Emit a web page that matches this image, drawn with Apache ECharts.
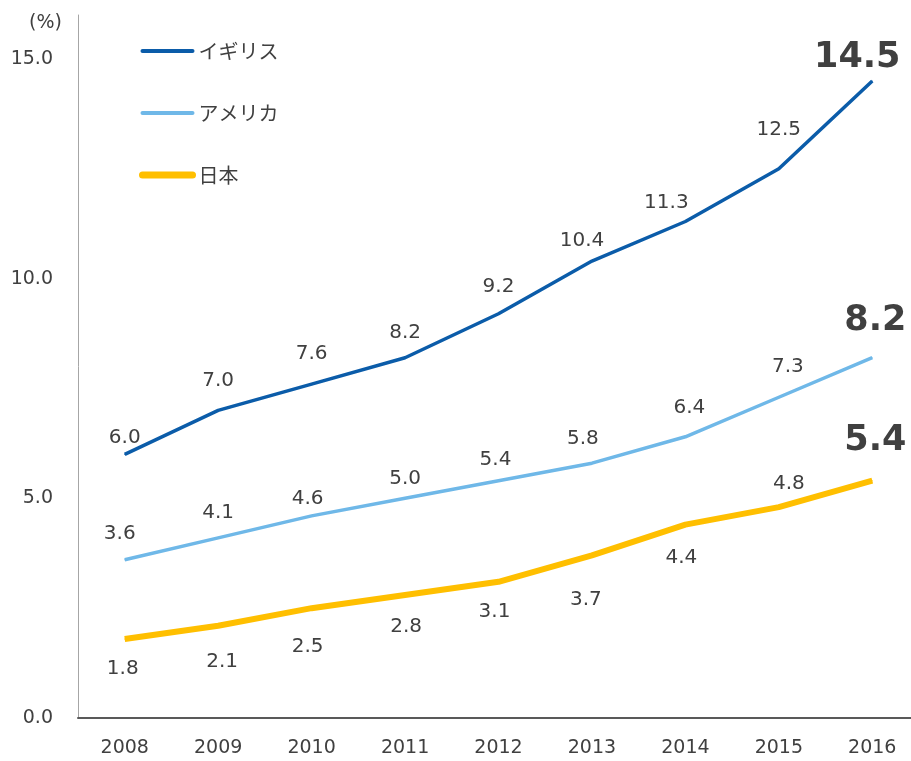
<!DOCTYPE html>
<html>
<head>
<meta charset="utf-8">
<script src="https://cdn.jsdelivr.net/npm/echarts@6/dist/echarts.min.js"></script>
<style>
  html, body { margin: 0; padding: 0; background: #fff; }
  #main { width: 911px; height: 761px; }
</style>
</head>
<body>
<div id="main"></div>
<script>
// データ
var years = ['2008', '2009', '2010', '2011', '2012', '2013', '2014', '2015', '2016'];
var uk = [6.0, 7.0, 7.6, 8.2, 9.2, 10.4, 11.3, 12.5, 14.5];
var usa = [3.6, 4.1, 4.6, 5.0, 5.4, 5.8, 6.4, 7.3, 8.2];
var japan = [1.8, 2.1, 2.5, 2.8, 3.1, 3.7, 4.4, 4.8, 5.4];
var seriesNames = ['イギリス', 'アメリカ', '日本'];

// ラベル位置 (点からのずれ)
var ukOffsets = [[0, -17], [0, -30], [0, -30], [0, -25], [0, -27], [-10, -20], [-19, -19], [0, -39], [-15, -23]];
var usaOffsets = [[-5, -26], [0, -25], [-4, -17], [0, -20], [-3, -21], [-9, -24], [4, -29], [9, -30], [3, -37]];
var jpOffsets = [[-2, 30], [4, 36], [-4, 39], [1, 32], [-4, 30], [-6, 44], [-4, 33], [10, -23], [3, -40]];

var numFont = 'DejaVu Sans';
var jpFont = '"Noto Sans CJK JP", "DejaVu Sans"';
var textColor = '#404040';
var colors = ['#0b5ca9', '#6fb8e8', '#ffbf00'];
var widths = [3.5, 3.5, 6];

function makeData(values, offsets) {
    var out = [];
    for (var i = 0; i < values.length; i++) {
        var last = i === values.length - 1;
        out.push({
            value: values[i],
            label: {
                offset: offsets[i],
                fontSize: last ? 35 : 20,
                fontWeight: last ? 'bold' : 'normal'
            }
        });
    }
    return out;
}

function lineSeries(k, values, offsets) {
    return {
        type: 'line',
        name: seriesNames[k],
        data: makeData(values, offsets),
        symbol: 'circle',
        symbolSize: 1,
        itemStyle: { color: colors[k] },
        lineStyle: { color: colors[k], width: widths[k] },
        label: {
            show: true,
            position: 'inside',
            color: textColor,
            fontFamily: numFont,
            formatter: function (p) { return p.value.toFixed(1); }
        },
        emphasis: { disabled: true },
        animation: false
    };
}

window.onload = function () {
    var chart = echarts.init(document.getElementById('main'));

    var legendData = seriesNames.map(function (n, k) {
        return { name: n, lineStyle: { width: k === 2 ? 7 : 4, cap: 'round' } };
    });

    var option = {
        title: {
            text: '(%)',
            left: 24,
            top: 9,
            textStyle: { fontSize: 19, fontWeight: 'normal', color: textColor, fontFamily: numFont }
        },
        legend: {
            data: legendData,
            orient: 'vertical',
            left: 134,
            top: 36,
            itemWidth: 50,
            itemHeight: 14,
            itemGap: 42,
            textStyle: { fontSize: 20, color: textColor, fontFamily: jpFont, padding: [0, 0, 0, 1] },
            itemStyle: { opacity: 0 }
        },
        grid: {
            left: 78,
            width: 841,
            top: 15,
            bottom: 43,
            outerBoundsMode: 'none'
        },
        xAxis: {
            type: 'category',
            data: years,
            boundaryGap: true,
            axisLine: { lineStyle: { color: '#595959', width: 2 } },
            axisTick: { show: false },
            axisLabel: { color: textColor, fontSize: 19, fontFamily: numFont, margin: 21 },
            splitLine: { show: false }
        },
        yAxis: {
            type: 'value',
            min: 0,
            max: 16,
            interval: 5,
            axisLine: { show: true, lineStyle: { color: '#a6a6a6', width: 1 } },
            axisTick: { show: false },
            splitLine: { show: false },
            axisLabel: {
                color: textColor,
                fontSize: 19,
                fontFamily: numFont,
                margin: 25,
                formatter: function (v) { return v % 5 === 0 ? v.toFixed(1) : ''; }
            }
        },
        series: [
            lineSeries(0, uk, ukOffsets),
            lineSeries(1, usa, usaOffsets),
            lineSeries(2, japan, jpOffsets)
        ]
    };

    chart.setOption(option);
};
</script>
</body>
</html>
